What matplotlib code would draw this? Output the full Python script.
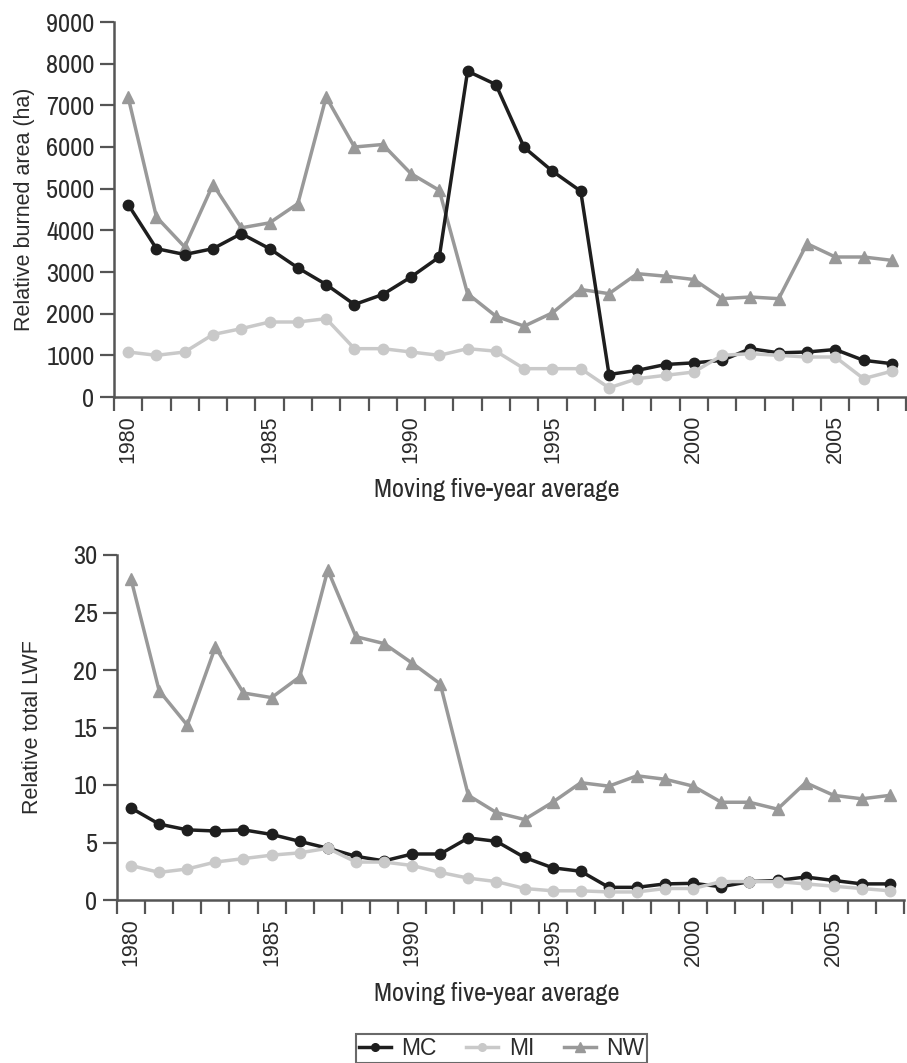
import matplotlib
matplotlib.use("Agg")
import matplotlib.pyplot as plt
from matplotlib.lines import Line2D
import numpy as np

NARROW = ['Archivo Narrow', 'Roboto Condensed', 'DejaVu Sans']
REGULAR = ['Liberation Sans', 'Arimo', 'DejaVu Sans']
plt.rcParams['font.family'] = NARROW

years = list(range(1980, 2008))

# Relative burned area (ha)
area_mc = [4620, 3560, 3420, 3560, 3920, 3560, 3100, 2700, 2220, 2460, 2880, 3360,
           7820, 7500, 5990, 5420, 4940, 540, 640, 780, 820, 880, 1160, 1060,
           1080, 1140, 880, 800]
area_mi = [1080, 1000, 1080, 1500, 1640, 1800, 1800, 1880, 1160, 1160, 1080, 1000,
           1160, 1100, 680, 680, 680, 220, 440, 520, 600, 1000, 1040, 1000,
           960, 960, 440, 620]
area_nw = [7200, 4320, 3600, 5100, 4060, 4180, 4640, 7200, 6000, 6060, 5360, 4960,
           2480, 1940, 1700, 2020, 2580, 2480, 2960, 2900, 2820, 2360, 2400, 2360,
           3680, 3360, 3360, 3280]

# Relative total LWF
lwf_mc = [8.0, 6.6, 6.1, 6.0, 6.1, 5.7, 5.1, 4.5, 3.8, 3.4, 4.0, 4.0,
          5.4, 5.1, 3.7, 2.8, 2.5, 1.1, 1.1, 1.4, 1.45, 1.15, 1.6, 1.7,
          2.0, 1.7, 1.4, 1.4]
lwf_mi = [3.0, 2.4, 2.7, 3.3, 3.6, 3.9, 4.1, 4.5, 3.3, 3.3, 3.0, 2.4,
          1.9, 1.6, 1.0, 0.8, 0.8, 0.7, 0.7, 1.0, 1.0, 1.6, 1.6, 1.6,
          1.4, 1.2, 1.0, 0.8]
lwf_nw = [27.9, 18.2, 15.2, 22.0, 18.0, 17.6, 19.4, 28.7, 22.9, 22.3, 20.6, 18.8,
          9.1, 7.6, 7.0, 8.5, 10.2, 9.9, 10.8, 10.5, 9.9, 8.5, 8.5, 7.9,
          10.2, 9.1, 8.8, 9.1]

series_names = ['MC', 'MI', 'NW']
label_years = [1980, 1985, 1990, 1995, 2000, 2005]

C_MC = '#1e1e1e'
C_MI = '#c9c9c9'
C_NW = '#999999'
AX_C = '#555555'
TXT_C = '#2b2b2b'

W, H = 907, 1063
fig = plt.figure(figsize=(W / 100, H / 100), dpi=100)


def px_axes(x0, x1, ytop, ybot):
    return fig.add_axes([x0 / W, 1 - ybot / H, (x1 - x0) / W, (ybot - ytop) / H])


def style(ax, ylim, yticks, ylabel, ylabel_x):
    ax.set_xlim(1979.5, 2007.5)
    ax.set_ylim(*ylim)
    for s in ('top', 'right'):
        ax.spines[s].set_visible(False)
    for s in ('left', 'bottom'):
        ax.spines[s].set_color(AX_C)
        ax.spines[s].set_linewidth(1.8)
    ax.set_yticks(yticks)
    ax.set_xticks(np.arange(1979.5, 2008.0, 1.0))
    ax.set_xticklabels([])
    ax.set_xticks(label_years, minor=True)
    ax.set_xticklabels([str(y) for y in label_years], minor=True, rotation=90,
                       family=REGULAR, fontsize=15.5, color=TXT_C)
    ax.tick_params(axis='x', which='major', length=10, width=1.6, color=AX_C, direction='out')
    ax.tick_params(axis='x', which='minor', length=0, pad=13)
    ax.tick_params(axis='y', length=10, width=1.6, color=AX_C, labelsize=19,
                   labelcolor=TXT_C, pad=4)
    ax.set_xlabel('Moving five-year average', fontsize=19, color=TXT_C)
    ax.set_ylabel(ylabel, fontsize=15.5, color=TXT_C, family=REGULAR)
    ax.yaxis.set_label_coords(ylabel_x, 0.5)


def draw(ax, mc, mi, nw):
    ax.plot(years, nw, color=C_NW, lw=2.5, marker='^', ms=9, zorder=2, clip_on=False)
    ax.plot(years, mc, color=C_MC, lw=2.5, marker='o', ms=7.5, zorder=3, clip_on=False)
    ax.plot(years, mi, color=C_MI, lw=2.5, marker='o', ms=7.5, zorder=4, clip_on=False)


ax1 = px_axes(114, 906, 22, 397)
draw(ax1, area_mc, area_mi, area_nw)
style(ax1, (0, 9000), np.arange(0, 9001, 1000), 'Relative burned area (ha)', -0.100)
ax1.xaxis.set_label_coords((497 - 114) / 792, -(478 - 397) / 375)

ax2 = px_axes(117, 904, 555, 900)
draw(ax2, lwf_mc, lwf_mi, lwf_nw)
style(ax2, (0, 30), np.arange(0, 31, 5), 'Relative total LWF', -0.094)
ax2.xaxis.set_label_coords((497 - 117) / 787, -(982 - 900) / 345)

# Legend with compact line + marker keys
handles = [
    Line2D([], [], color=C_MC, lw=2.5, marker='o', ms=5.5),
    Line2D([], [], color=C_MI, lw=2.5, marker='o', ms=5.5),
    Line2D([], [], color=C_NW, lw=2.5, marker='^', ms=6.5),
]
leg = fig.legend(handles, series_names, loc='upper left',
                 bbox_to_anchor=(356 / W, 1 - 1034 / H),
                 ncol=3, frameon=True, fancybox=False, prop={'family': REGULAR, 'size': 16.5},
                 handlelength=1.4, handletextpad=0.45, columnspacing=1.3,
                 borderpad=0.12, borderaxespad=0)
leg.get_frame().set_edgecolor('#444444')
leg.get_frame().set_linewidth(1.5)
for t in leg.get_texts():
    t.set_color(TXT_C)

fig.savefig('out.png', dpi=100)
